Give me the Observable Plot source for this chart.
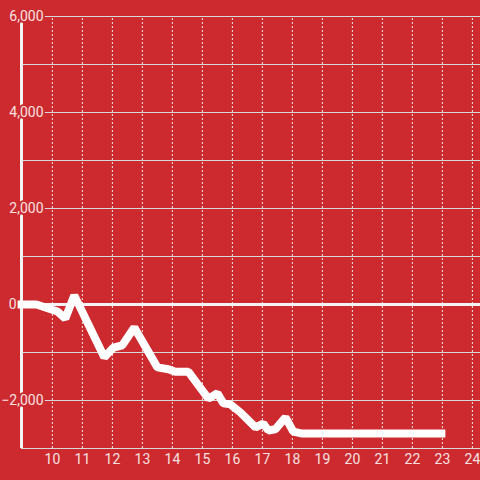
<!DOCTYPE html>
<html>
<head>
<meta charset="utf-8">
<script src="https://cdn.jsdelivr.net/npm/d3@7"></script>
<script src="https://cdn.jsdelivr.net/npm/@observablehq/plot@0.6"></script>
<style>
  html, body { margin: 0; padding: 0; background: #cc2a2f; }
  svg { display: block; }
</style>
</head>
<body>
<div id="chart"></div>
<script>
const xValues = [8.84, 9.47, 10.17, 10.43, 10.73, 11.73, 12.03, 12.33, 12.73, 13.5, 13.87, 14.1, 14.53, 15.2, 15.5, 15.7, 15.93, 16.27, 16.77, 17.03, 17.2, 17.43, 17.77, 18.03, 18.33, 23.1];
const yValues = [0, 0, -146, -290, 190, -1100, -900, -850, -480, -1310, -1350, -1400, -1400, -1960, -1850, -2060, -2080, -2250, -2560, -2480, -2625, -2600, -2350, -2650, -2690, -2690];
const xTicks = [10, 11, 12, 13, 14, 15, 16, 17, 18, 19, 20, 21, 22, 23, 24];
const yTicks = [-3000, -2000, -1000, 0, 1000, 2000, 3000, 4000, 5000, 6000];
const yLabelTicks = [-2000, 2000, 4000, 6000];
const zeroTick = [0];

const data = xValues.map((x, i) => ({x, y: yValues[i]}));
const bg = "#cc2a2f";
const txt = "#f6e1e1";
const fmt = d3.format(",");
const xDomain = [8.97, 24.27];

const chart = Plot.plot({
  width: 480,
  height: 480,
  marginLeft: 21,
  marginRight: 0,
  marginTop: 16,
  marginBottom: 32,
  style: {background: bg, fontFamily: "Roboto, 'Liberation Sans', sans-serif", fontSize: "14px", overflow: "visible"},
  x: {domain: xDomain, axis: null},
  y: {domain: [-3000, 6000], axis: null},
  marks: [
    Plot.ruleX(xTicks, {x: d => d, y1: -3000, y2: 6000, stroke: "#e6e6e6", strokeWidth: 1, strokeDasharray: "2,2"}),
    Plot.ruleY(yTicks.filter(d => d !== 0), {y: d => d, stroke: "#d8d8d8", strokeWidth: 1}),
    Plot.ruleX([xDomain[0]], {x: d => d, y1: -3000, y2: 6000, stroke: "#f4f4f4", strokeWidth: 3}),
    Plot.ruleY([0], {y: d => d, stroke: "#f4f4f4", strokeWidth: 3}),
    Plot.text(yLabelTicks, {y: d => d, text: d => fmt(d), frameAnchor: "left", textAnchor: "end", dx: 22, fill: txt, stroke: bg, strokeWidth: 4, fontSize: 14}),
    Plot.text(zeroTick, {y: d => d, text: d => fmt(d), frameAnchor: "left", textAnchor: "end", dx: -5, fill: txt, stroke: bg, strokeWidth: 5, fontSize: 14}),
    Plot.text(xTicks, {x: d => d, text: d => String(d), frameAnchor: "bottom", lineAnchor: "top", dy: 6, fill: txt, fontSize: 14}),
    Plot.line(data, {x: "x", y: "y", stroke: "white", strokeWidth: 8, strokeLinejoin: "miter", strokeLinecap: "butt", clip: false})
  ]
});
document.getElementById("chart").append(chart);
</script>
</body>
</html>
